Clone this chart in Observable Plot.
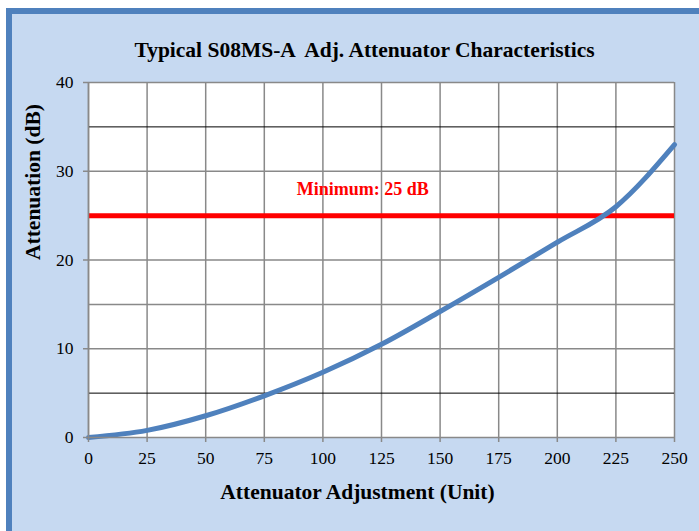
<!DOCTYPE html>
<html>
<head>
<meta charset="utf-8">
<script src="https://cdn.jsdelivr.net/npm/d3@7"></script>
<script src="https://cdn.jsdelivr.net/npm/@observablehq/plot@0.6"></script>
<style>
  html, body { margin: 0; padding: 0; width: 699px; height: 531px; overflow: hidden; background: #ffffff; }
  #panel { position: absolute; left: 6px; top: 8px; width: 720px; height: 560px;
           background: #C6D9F1; border-left: 6px solid #4F81BD; border-top: 6px solid #4F81BD; }
  #chart { position: absolute; left: 0; top: 0; }
  #chart svg, #chart svg text { font-family: 'Liberation Serif', 'Times New Roman', serif; }
</style>
</head>
<body>
<div id="panel"></div>
<div id="chart"></div>
<script>
const title = "Typical S08MS-A  Adj. Attenuator Characteristics";
const xLabel = "Attenuator Adjustment (Unit)";
const yLabel = "Attenuation (dB)";
const minimumLabel = "Minimum: 25 dB";
const minimumValue = 25;

const adjustment  = [0, 25, 50, 75, 100, 125, 150, 175, 200, 225, 250];
const attenuation = [0, 0.8, 2.45, 4.7, 7.35, 10.5, 14.2, 18.05, 22.0, 26.0, 33.0];

const xTicks = [0, 25, 50, 75, 100, 125, 150, 175, 200, 225, 250];
const yTicks = [0, 10, 20, 30, 40];
const yGridGray = [10, 15, 20, 30, 40];
const yGridBlack = [5, 35];

const data = adjustment.map((x, i) => ({x, y: attenuation[i]}));
const serif = "'Liberation Serif', 'Times New Roman', serif";

const chart = Plot.plot({
  width: 699,
  height: 531,
  marginLeft: 88,
  marginRight: 25,
  marginTop: 82,
  marginBottom: 94,
  style: {background: "transparent", fontFamily: serif, color: "#000"},
  x: {domain: [0, 250], ticks: xTicks},
  y: {domain: [0, 40], ticks: yTicks},
  marks: [
    Plot.frame({fill: "white", stroke: "none"}),
    Plot.ruleX(xTicks, {stroke: "#898989", strokeWidth: 1.5}),
    Plot.ruleY(yGridGray, {stroke: "#898989", strokeWidth: 1.5}),
    Plot.ruleY(yGridBlack, {stroke: "#000", strokeWidth: 1}),
    Plot.ruleY([minimumValue], {stroke: "#FF0000", strokeWidth: 5}),
    Plot.line(data, {x: "x", y: "y", stroke: "#4F81BD", strokeWidth: 5, curve: "monotone-x"}),
    Plot.axisX({ticks: xTicks, tickSize: 5, tickPadding: 9, stroke: "#898989", strokeWidth: 1.5,
                fontSize: 17.5, fontFamily: serif, fill: "#000", label: null}),
    Plot.axisY({ticks: yTicks, tickSize: 5, tickPadding: 10, stroke: "#898989", strokeWidth: 1.5,
                fontSize: 17.5, fontFamily: serif, fill: "#000", label: null}),
    Plot.ruleY([0], {stroke: "#898989", strokeWidth: 1.5}),
    Plot.ruleX([0], {stroke: "#898989", strokeWidth: 1.5}),
    Plot.text([minimumLabel], {x: 117, y: minimumValue, text: d => d, dy: -26,
               fill: "#FF0000", fontWeight: "bold", fontSize: 18, fontFamily: serif}),
    Plot.text([title], {frameAnchor: "top", text: d => d, dx: -17, dy: -41,
               fontWeight: "bold", fontSize: 21.5, fontFamily: serif, fill: "#000"}),
    Plot.text([yLabel], {frameAnchor: "left", text: d => d, dx: -55, rotate: -90,
               fontWeight: "bold", fontSize: 21.5, fontFamily: serif, fill: "#000"}),
    Plot.text([xLabel], {frameAnchor: "bottom", text: d => d, dx: -24, dy: 61,
               fontWeight: "bold", fontSize: 21.5, fontFamily: serif, fill: "#000"})
  ]
});
document.getElementById("chart").appendChild(chart);
</script>
</body>
</html>
